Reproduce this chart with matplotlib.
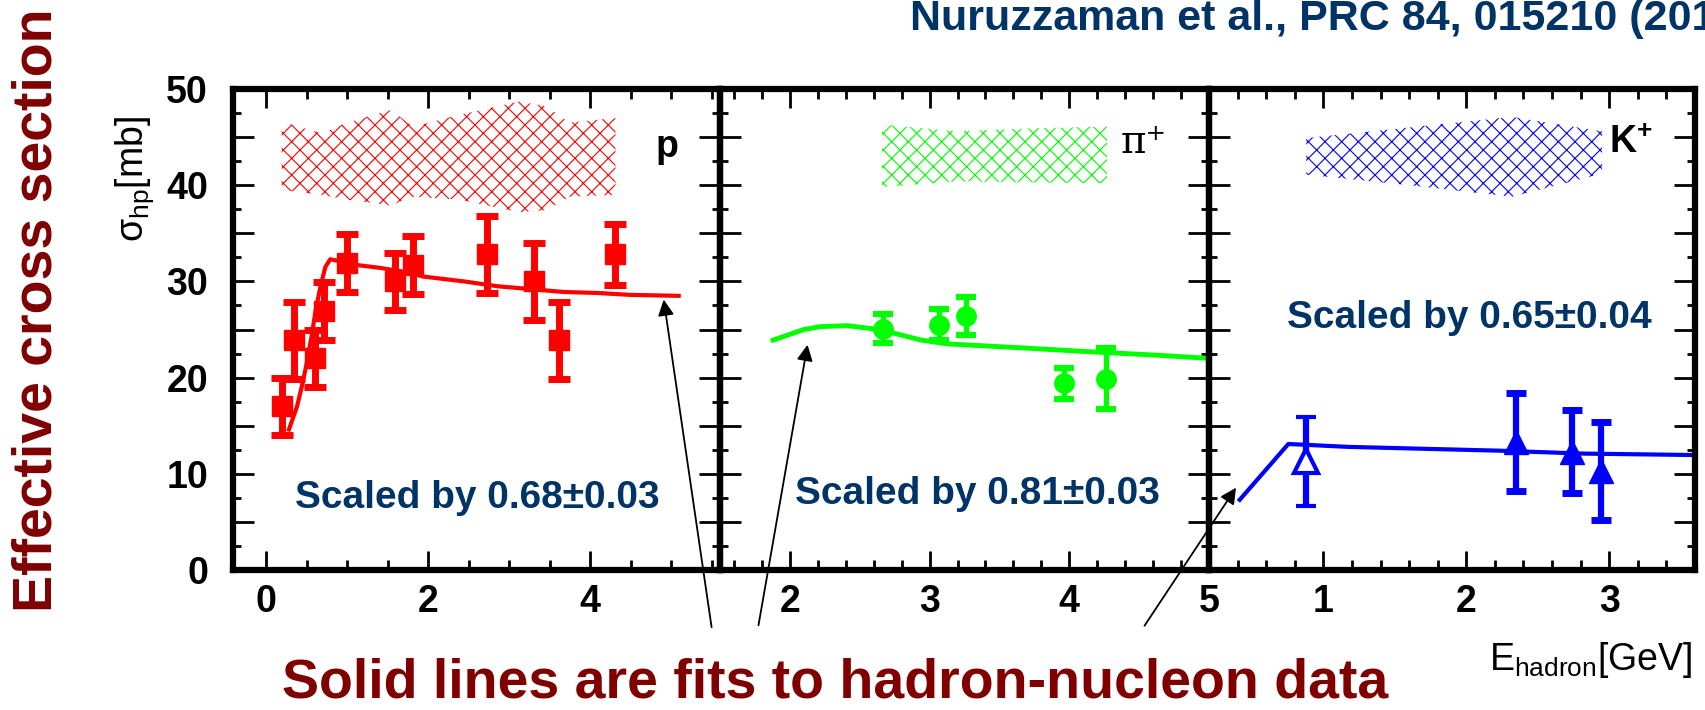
import matplotlib
matplotlib.use('Agg')
import matplotlib.pyplot as plt
from matplotlib.ticker import MultipleLocator, FuncFormatter

plt.rcParams['font.family'] = ['Liberation Sans', 'DejaVu Sans']
plt.rcParams['mathtext.fontset'] = 'custom'
plt.rcParams['mathtext.rm'] = 'Liberation Sans'
plt.rcParams['mathtext.it'] = 'Liberation Sans:italic'
plt.rcParams['mathtext.bf'] = 'Liberation Sans:bold'
plt.rcParams['hatch.linewidth'] = 0.8

# proton data
p_e = [0.19, 0.34, 0.60, 0.71, 1.00, 1.59, 1.81, 2.72, 3.31, 3.61, 4.31]
p_sig = [17.0, 23.9, 22.0, 26.9, 31.9, 30.0, 31.7, 32.8, 30.0, 23.9, 32.8]
p_err = [3.0, 4.0, 3.0, 3.0, 3.0, 3.0, 3.0, 4.0, 4.0, 4.0, 3.2]
p_fit_e = [0.28, 0.38, 0.44, 0.50, 0.56, 0.61, 0.67, 0.73, 0.79, 0.96, 1.12, 1.41,
           1.70, 1.94, 2.44, 2.85, 3.26, 3.67, 4.08, 4.49, 5.09]
p_fit = [14.6, 17.0, 19.1, 21.5, 24.3, 27.0, 29.5, 31.5, 32.3, 32.0, 31.7, 31.4,
         31.0, 30.5, 30.0, 29.5, 29.2, 28.9, 28.8, 28.6, 28.5]
p_band_e = [0.19, 0.68, 1.00, 1.53, 1.82, 2.38, 3.12, 3.46, 3.74, 4.31]
p_band_hi = [46.6, 45.4, 46.5, 47.8, 46.1, 47.3, 48.7, 48.2, 46.5, 47.0]
p_band_lo = [39.5, 39.0, 38.5, 37.9, 38.8, 38.5, 37.2, 37.4, 38.8, 39.0]

# pion data
pi_e = [2.67, 3.07, 3.26, 3.96, 4.26]
pi_sig = [25.1, 25.5, 26.4, 19.4, 19.9]
pi_err = [1.5, 1.6, 2.0, 1.6, 3.2]
pi_fit_e = [1.88, 1.98, 2.10, 2.22, 2.41, 2.58, 2.75, 2.94, 3.13, 3.65, 4.13, 4.60, 5.0]
pi_fit = [23.9, 24.4, 25.0, 25.3, 25.4, 25.1, 24.6, 23.9, 23.5, 23.1, 22.7, 22.35, 22.0]
pi_band_e = [2.66, 3.20, 3.70, 4.27]
pi_band_hi = [46.3, 45.6, 45.9, 46.1]
pi_band_lo = [39.8, 40.4, 40.3, 40.2]

# kaon data (first point drawn open)
k_e = [0.88, 2.35, 2.74, 2.94]
k_sig = [11.3, 13.3, 12.3, 10.3]
k_err = [4.6, 5.1, 4.3, 5.1]
k_fit_e = [0.415, 0.755, 1.17, 2.24, 2.82, 3.6]
k_fit = [7.3, 13.1, 12.8, 12.4, 12.1, 11.95]
k_band_e = [0.88, 1.60, 2.32, 2.95]
k_band_hi = [44.9, 46.0, 47.1, 45.6]
k_band_lo = [41.1, 40.0, 38.8, 41.2]

W, H = 1705, 710
fig = plt.figure(figsize=(W / 100, H / 100), dpi=100)


def box(left, right, top=89, bottom=570):
    return [left / W, 1 - bottom / H, (right - left) / W, (bottom - top) / H]


ax1 = fig.add_axes(box(233, 720))
ax2 = fig.add_axes(box(720, 1209))
ax3 = fig.add_axes(box(1209, 1695))


def style(ax, xlim, xmajor, xminor, ylabels):
    ax.set_xlim(*xlim)
    ax.set_ylim(0, 50)
    ax.patch.set_alpha(0)
    ax.xaxis.set_major_locator(MultipleLocator(xmajor))
    ax.xaxis.set_minor_locator(MultipleLocator(xminor))
    ax.yaxis.set_major_locator(MultipleLocator(5))
    ax.yaxis.set_minor_locator(MultipleLocator(2.5))
    ax.yaxis.set_major_formatter(FuncFormatter(lambda v, p: f'{v:g}' if v % 10 == 0 else ''))
    ax.xaxis.set_major_formatter(FuncFormatter(lambda v, p: f'{v:g}'))
    for s in ax.spines.values():
        s.set_linewidth(4.5)
    ax.tick_params(which='both', direction='in', top=True, right=True, width=2)
    ax.tick_params(axis='x', which='major', length=14, pad=10, labelsize=27)
    ax.tick_params(axis='x', which='minor', length=7)
    ax.tick_params(axis='y', which='major', length=15, pad=18, labelsize=27, labelleft=ylabels)
    ax.tick_params(axis='y', which='minor', length=6)
    for lab in ax.get_xticklabels() + ax.get_yticklabels():
        lab.set_fontweight('bold')


style(ax1, (-0.41, 5.6), 2, 0.5, True)
style(ax2, (1.5, 5.0), 1, 0.2, False)
style(ax3, (0.2, 3.6), 1, 0.2, False)

# hatched bands
ax1.fill_between(p_band_e, p_band_lo, p_band_hi, facecolor='none', edgecolor='red', hatch='xx', linewidth=0)
ax2.fill_between(pi_band_e, pi_band_lo, pi_band_hi, facecolor='none', edgecolor='#00ff00', hatch='xx', linewidth=0)
ax3.fill_between(k_band_e, k_band_lo, k_band_hi, facecolor='none', edgecolor='blue', hatch='xx', linewidth=0)

# fits
ax1.plot(p_fit_e, p_fit, color='red', lw=3)
ax2.plot(pi_fit_e, pi_fit, color='#00ff00', lw=3.5)
ax3.plot(k_fit_e, k_fit, color='blue', lw=3)

# data points
ax1.errorbar(p_e, p_sig, yerr=p_err, fmt='s', color='red', ms=15,
             elinewidth=5, capsize=8, capthick=5)
ax2.errorbar(pi_e, pi_sig, yerr=pi_err, fmt='o', color='#00ff00', ms=14,
             elinewidth=3.8, capsize=7, capthick=4.5)
ax3.errorbar(k_e[:1], k_sig[:1], yerr=k_err[:1], fmt='^', color='blue', ms=17,
             mfc='white', mew=3, elinewidth=4.5, capsize=7, capthick=5)
ax3.errorbar(k_e[1:], k_sig[1:], yerr=k_err[1:], fmt='^', color='blue', ms=17,
             elinewidth=4.5, capsize=7, capthick=5)

# panel labels
ax1.text(4.94, 44.0, 'p', ha='center', va='center', fontsize=27, fontweight='bold')
ax2.text(4.53, 44.4, 'π⁺', ha='center', va='center', fontsize=28,
         family=['DejaVu Serif', 'DejaVu Sans'])
ax3.text(3.15, 44.4, r'$\mathbf{K^{+}}$', ha='center', va='center', fontsize=27)

blue = '#003366'
ax1.text(2.6, 6.4, 'Scaled by 0.68±0.03', ha='center', va='baseline', fontsize=28,
         fontweight='bold', color=blue)
ax2.text(3.34, 6.9, 'Scaled by 0.81±0.03', ha='center', va='baseline', fontsize=28,
         fontweight='bold', color=blue)
ax3.text(2.02, 25.2, 'Scaled by 0.65±0.04', ha='center', va='baseline', fontsize=28,
         fontweight='bold', color=blue)

# axis titles
fig.text(135 / W, 1 - 242 / H, r'σ$_{\mathregular{hp}}$[mb]', rotation=90,
         ha='center', va='bottom', fontsize=27)
fig.text(1692 / W, 1 - 670 / H, r'E$_{\mathregular{hadron}}$[GeV]',
         ha='right', va='baseline', fontsize=27)

# slide annotations
red = '#800000'
fig.text(38 / W, 1 - 310 / H, 'Effective cross section', rotation=90, ha='center',
         va='center', fontsize=40, fontweight='bold', color=red)
fig.text(282 / W, 1 - 697 / H, 'Solid lines are fits to hadron-nucleon data',
         ha='left', va='baseline', fontsize=40, fontweight='bold', color=red)
fig.text(910 / W, 1 - 30 / H, 'Nuruzzaman et al., PRC 84, 015210 (2011)',
         ha='left', va='baseline', fontsize=31, fontweight='bold', color=blue)

arrow = dict(arrowstyle='-|>', color='black', lw=1.3, mutation_scale=24)
ax1.annotate('', xy=(4.9, 28.4), xytext=(712, 80), textcoords='figure pixels',
             arrowprops=arrow, annotation_clip=False)
ax2.annotate('', xy=(2.13, 23.7), xytext=(758, 82), textcoords='figure pixels',
             arrowprops=arrow, annotation_clip=False)
ax3.annotate('', xy=(0.40, 8.8), xytext=(1143, 82), textcoords='figure pixels',
             arrowprops=arrow, annotation_clip=False)

fig.savefig('out.png', dpi=100, facecolor='white')
